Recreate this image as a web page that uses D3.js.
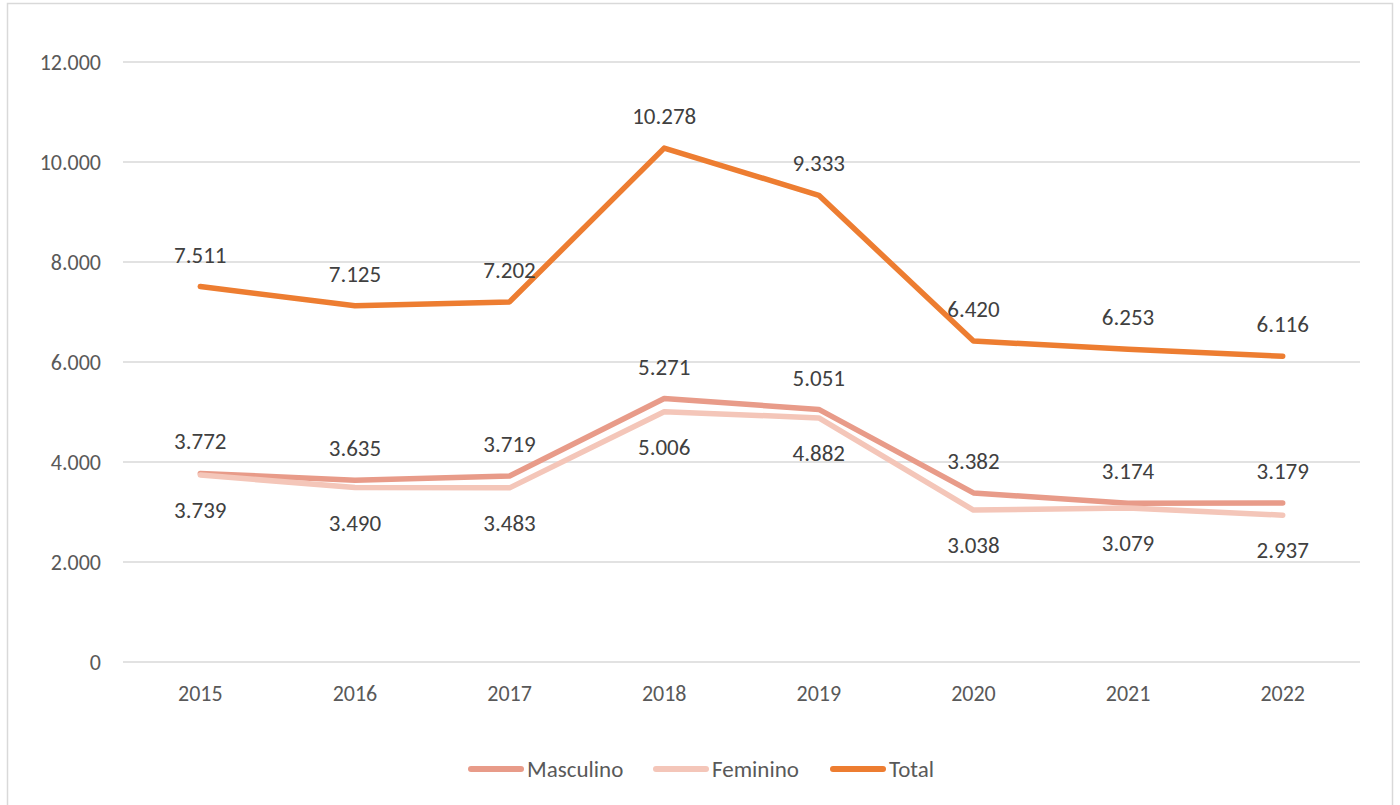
<!DOCTYPE html>
<html><head><meta charset="utf-8">
<script src="https://cdn.jsdelivr.net/npm/d3@7"></script>
<style>body{margin:0;background:#fff;} svg{display:block;font-family:Carlito,Calibri,Lato,sans-serif;}</style>
</head><body>
<svg id="c" width="1400" height="805"></svg>
<script>
const years = ["2015","2016","2017","2018","2019","2020","2021","2022"];
const masculino = [3772,3635,3719,5271,5051,3382,3174,3179];
const feminino = [3739,3490,3483,5006,4882,3038,3079,2937];
const total = [7511,7125,7202,10278,9333,6420,6253,6116];
const yTicks = [0,2000,4000,6000,8000,10000,12000];

const series = [
  {name:"Masculino", values:masculino, color:"#E89B89", pos:"above"},
  {name:"Feminino", values:feminino, color:"#F4C6B9", pos:"below"},
  {name:"Total", values:total, color:"#ED7D31", pos:"above"}
];

const svg = d3.select("#c");
const fmt = v => d3.format(",")(v).replace(/,/g,".");
const FONT = "Carlito,Calibri,Lato,sans-serif";

svg.append("rect").attr("x",7.5).attr("y",3.5).attr("width",1385).attr("height",810)
  .attr("fill","#fff").attr("stroke","#d9d9d9").attr("stroke-width",1.5);

const x = d3.scaleBand().domain(years).range([123,1360]);
const y = d3.scaleLinear().domain([0,12000]).range([662,62]);

const grid = svg.append("g");
grid.selectAll("line").data(yTicks).join("line")
  .attr("x1",123).attr("x2",1360).attr("y1",d=>y(d)).attr("y2",d=>y(d))
  .attr("stroke","#d9d9d9").attr("stroke-width",1.3);

const yAxis = d3.axisLeft(y).tickValues(yTicks).tickSize(0).tickPadding(0).tickFormat(fmt);
const ya = svg.append("g").attr("transform","translate(101,0)").call(yAxis);
ya.select(".domain").remove();
ya.selectAll("text").attr("fill","#595959").attr("font-size",22).attr("font-family",FONT);

const xAxis = d3.axisBottom(x).tickSize(0).tickPadding(0);
const xa = svg.append("g").attr("transform","translate(0,693)").call(xAxis);
xa.select(".domain").remove();
xa.selectAll("text").attr("fill","#595959").attr("font-size",22).attr("y",0).attr("dy","0.35em").attr("font-family",FONT);

const line = d3.line().x((d,i)=>x(years[i])+x.bandwidth()/2).y(d=>y(d));
series.forEach(s=>{
  svg.append("path").datum(s.values).attr("d",line).attr("fill","none")
    .attr("stroke",s.color).attr("stroke-width",5.5).attr("stroke-linecap","round").attr("stroke-linejoin","round");
});
series.forEach(s=>{
  svg.append("g").selectAll("text").data(s.values).join("text")
    .attr("x",(d,i)=>x(years[i])+x.bandwidth()/2)
    .attr("y",d=>y(d)+(s.pos==="above"?-32:35))
    .attr("dy","0.35em").attr("text-anchor","middle")
    .attr("font-size",23).attr("fill","#404040").text(d=>fmt(d));
});

const legX = [468,653,830];
const leg = svg.append("g");
series.forEach((s,i)=>{
  leg.append("line").attr("x1",legX[i]+3).attr("x2",legX[i]+53).attr("y1",769).attr("y2",769)
    .attr("stroke",s.color).attr("stroke-width",6).attr("stroke-linecap","round");
  leg.append("text").attr("x",legX[i]+59).attr("y",769).attr("dy","0.35em")
    .attr("font-size",23).attr("fill","#595959").text(s.name);
});
</script>
</body></html>
